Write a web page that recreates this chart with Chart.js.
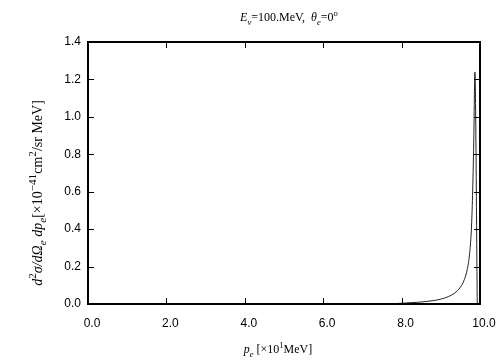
<!DOCTYPE html>
<html>
<head>
<meta charset="utf-8">
<script src="https://cdn.jsdelivr.net/npm/chart.js@4.4.0/dist/chart.umd.min.js"></script>
<style>
  html, body { margin: 0; padding: 0; background: #fff; }
  #wrap { width: 504px; height: 360px; }
</style>
</head>
<body>
<div id="wrap"><canvas id="c" width="504" height="360"></canvas></div>
<script>
// electron momentum [x10 MeV] and d2sigma/dOmega dp [1e-41 cm2/sr MeV]
const pe = [7.6, 8.0, 8.4, 8.8, 9.0, 9.2, 9.35, 9.5, 9.6, 9.68, 9.74, 9.78, 9.81, 9.84, 9.87, 9.93];
const xsec = [0.0, 0.004, 0.009, 0.018, 0.026, 0.04, 0.058, 0.09, 0.13, 0.19, 0.28, 0.40, 0.58, 0.86, 1.24, 0.0];

const xTicks = [0, 2, 4, 6, 8, 10];
const yTicks = [0, 0.2, 0.4, 0.6, 0.8, 1.0, 1.2, 1.4];

const SERIF = '"Liberation Serif", "DejaVu Serif", serif';
const SANS = '"Liberation Sans", Arial, sans-serif';

// draw a run of text pieces: [text, italic, shift] with shift 'sub' / 'sup'
function richText(ctx, parts, cx, cy, size, small) {
  small = small || 0.72;
  const font = (p) => (p[1] ? 'italic ' : '') + (p[2] ? size * small : size) + 'px ' + SERIF;
  let total = 0;
  parts.forEach(p => { ctx.font = font(p); total += ctx.measureText(p[0]).width; });
  let x = cx - total / 2;
  ctx.textBaseline = 'alphabetic';
  ctx.textAlign = 'left';
  parts.forEach(p => {
    ctx.font = font(p);
    let dy = 0;
    if (p[2] === 'sub') dy = size * 0.3;
    if (p[2] === 'sup') dy = -size * 0.4;
    ctx.fillText(p[0], x, cy + dy);
    x += ctx.measureText(p[0]).width;
  });
}

// gnuplot style frame with inward ticks on every side, plus the labels
const framePlugin = {
  id: 'frame',
  afterDraw(chart) {
    const ctx = chart.ctx;
    const a = chart.chartArea;
    const xs = chart.scales.x, ys = chart.scales.y;
    ctx.save();
    ctx.strokeStyle = '#000';
    ctx.lineWidth = 1;
    ctx.beginPath();
    xTicks.forEach(v => {
      const px = Math.round(xs.getPixelForValue(v)) + 0.5;
      ctx.moveTo(px, a.bottom); ctx.lineTo(px, a.bottom - 6);
      ctx.moveTo(px, a.top); ctx.lineTo(px, a.top + 6);
    });
    yTicks.forEach(v => {
      const py = Math.round(ys.getPixelForValue(v)) + 0.5;
      ctx.moveTo(a.left, py); ctx.lineTo(a.left + 6, py);
      ctx.moveTo(a.right, py); ctx.lineTo(a.right - 6, py);
    });
    ctx.stroke();
    ctx.lineWidth = 2;
    ctx.strokeRect(a.left, a.top, a.right - a.left, a.bottom - a.top);

    ctx.fillStyle = '#000';
    richText(ctx, [['E', true], ['ν', true, 'sub'], ['=100.MeV,  ', false], ['θ', true], ['e', true, 'sub'], ['=0', false], ['o', false, 'sup']], 289, 21, 12);
    richText(ctx, [['p', true], ['e', true, 'sub'], [' [×10', false], ['1', false, 'sup'], ['MeV]', false]], 278, 353, 12);

    ctx.translate(42, 193);
    ctx.rotate(-Math.PI / 2);
    richText(ctx, [['d', true], ['2', false, 'sup'], ['σ/', true], ['d', true], ['Ω', true], ['e', true, 'sub'], [' dp', true], ['e', true, 'sub'],
      ['[×10', false], ['−41', false, 'sup'], ['cm', false], ['2', false, 'sup'], ['/sr MeV]', false]], 0, 0, 14, 0.8);
    ctx.restore();
  }
};

new Chart(document.getElementById('c'), {
  type: 'line',
  data: {
    datasets: [{
      data: pe.map((v, i) => ({ x: v, y: xsec[i] })),
      borderColor: '#222',
      borderWidth: 1,
      pointRadius: 0,
      tension: 0.25,
      cubicInterpolationMode: 'monotone',
      fill: false
    }]
  },
  options: {
    responsive: false,
    animation: false,
    layout: { padding: { left: 0, right: 24, top: 42, bottom: 0 } },
    plugins: { legend: { display: false }, tooltip: { enabled: false } },
    scales: {
      x: {
        type: 'linear',
        min: 0, max: 10,
        afterFit: s => { s.height = 56; },
        afterBuildTicks: s => { s.ticks = xTicks.map(v => ({ value: v })); },
        grid: { display: false, drawTicks: false },
        border: { display: false },
        ticks: {
          padding: 12,
          labelOffset: 4,
          color: '#000',
          font: { family: SANS, size: 12 },
          callback: v => v.toFixed(1)
        }
      },
      y: {
        min: 0, max: 1.4,
        afterFit: s => { s.width = 88; },
        afterBuildTicks: s => { s.ticks = yTicks.map(v => ({ value: v })); },
        grid: { display: false, drawTicks: false },
        border: { display: false },
        ticks: {
          padding: 7,
          color: '#000',
          font: { family: SANS, size: 12 },
          callback: v => v.toFixed(1)
        }
      }
    }
  },
  plugins: [framePlugin]
});
</script>
</body>
</html>
